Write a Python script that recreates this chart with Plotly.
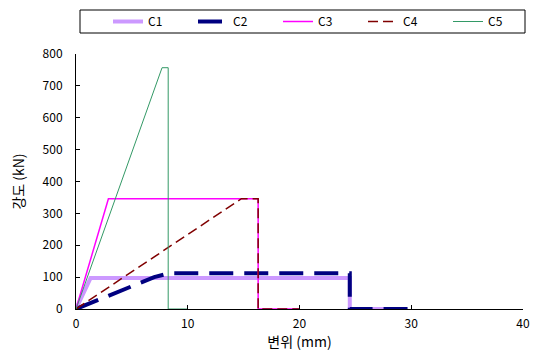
import plotly.graph_objects as go

names = ["C1", "C2", "C3", "C4", "C5"]
c1_x = [0, 1.3, 24.5, 24.5, 29]
c1_y = [0, 97, 97, 0, 0]
c2_x = [0, 7.0, 8.3, 24.5, 24.5, 30]
c2_y = [0, 100, 112, 112, 0, 0]
c3_x = [0, 2.9, 16.3, 16.3, 20]
c3_y = [0, 346, 346, 0, 0]
c4_x = [0, 14.8, 16.3, 16.3, 20]
c4_y = [0, 346, 346, 0, 0]
c5_x = [0, 7.7, 8.25, 8.25, 10]
c5_y = [0, 757, 757, 0, 0]

xs = [c1_x, c2_x, c3_x, c4_x, c5_x]
ys = [c1_y, c2_y, c3_y, c4_y, c5_y]
styles = [
    dict(color="#CC99FF", width=4, dash="solid"),
    dict(color="#000080", width=4, dash="24px,11px"),
    dict(color="#FF00FF", width=1.5, dash="solid"),
    dict(color="#800000", width=1.5, dash="10px,5px"),
    dict(color="#339966", width=1, dash="solid"),
]

font = "Noto Sans CJK KR, DejaVu Sans, sans-serif"
fig = go.Figure()
for n, x, y, s in zip(names, xs, ys, styles):
    fig.add_trace(go.Scatter(x=x, y=y, name=n, mode="lines", line=s))

fig.update_layout(
    width=536, height=352,
    margin=dict(l=76, r=13, t=54, b=43, autoexpand=False),
    paper_bgcolor="white", plot_bgcolor="white",
    font=dict(family=font, size=12, color="black"),
    showlegend=True,
    legend=dict(orientation="h", xref="container", yref="container",
                x=108/536, y=1 - 7/352, xanchor="left", yanchor="top",
                entrywidth=40, entrywidthmode="pixels",
                font=dict(size=12), bgcolor="rgba(0,0,0,0)"),
    shapes=[dict(type="rect", xref="paper", yref="paper",
                 x0=(80-76)/447, x1=(525-76)/447,
                 y0=(309-33)/255, y1=(309-10)/255,
                 line=dict(color="black", width=1), fillcolor="rgba(0,0,0,0)")],
)
fig.update_xaxes(range=[0, 40], tickvals=[0, 10, 20, 30, 40], showgrid=False, zeroline=False,
                 showline=True, linecolor="black", linewidth=1, ticks="inside", ticklen=4,
                 tickcolor="black", ticklabelstandoff=4, title=dict(text="변위 (mm)", standoff=6))
fig.update_yaxes(range=[0, 800], dtick=100, showgrid=False, zeroline=False,
                 showline=True, linecolor="black", linewidth=1, ticks="inside", ticklen=4,
                 tickcolor="black", ticklabelstandoff=10, title=dict(text="강도 (kN)", standoff=14))
fig.write_html("out.html")
